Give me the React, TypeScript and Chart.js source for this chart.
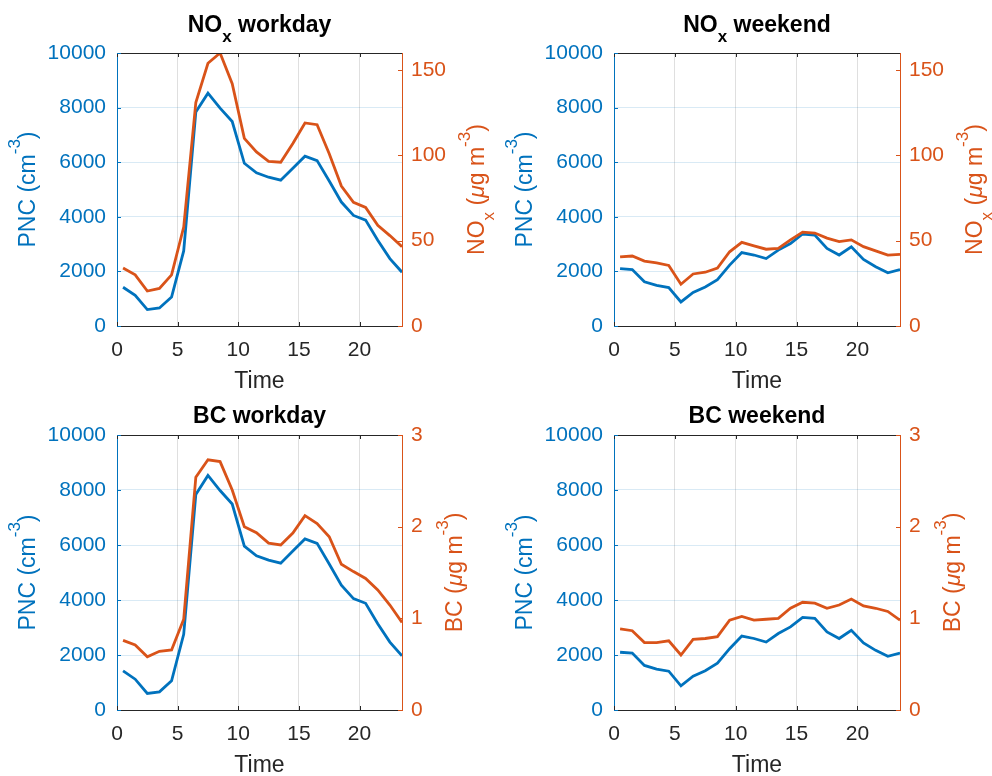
import React, { useEffect, useRef } from "react";
import { Chart, registerables } from "chart.js";

Chart.register(...registerables);

// ---------- data ----------
const hours = [0.5, 1.5, 2.5, 3.5, 4.5, 5.5, 6.5, 7.5, 8.5, 9.5, 10.5, 11.5, 12.5, 13.5, 14.5, 15.5, 16.5, 17.5, 18.5, 19.5, 20.5, 21.5, 22.5, 23.5];
const pncWorkday = [1420, 1120, 600, 660, 1060, 2750, 7840, 8530, 7980, 7490, 5960, 5610, 5450, 5340, 5780, 6220, 6060, 5310, 4540, 4050, 3880, 3140, 2470, 1970];
const pncWeekend = [2100, 2070, 1620, 1490, 1410, 880, 1230, 1430, 1700, 2230, 2690, 2600, 2470, 2780, 3020, 3370, 3330, 2840, 2600, 2900, 2440, 2170, 1950, 2070];
const noxWorkday = [34, 30, 20.5, 22, 30, 58, 131, 154, 160, 142, 110, 102, 96.5, 96, 107, 119, 118, 101, 82, 72.5, 69.5, 59, 53, 46.5];
const noxWeekend = [40.5, 41, 38, 37, 35.5, 24.5, 30.5, 31.5, 34, 43.5, 49, 47, 45, 45.5, 50.5, 55, 54.5, 51.5, 49.5, 50.5, 46.5, 44, 41.5, 42];
const bcWorkday = [0.76, 0.71, 0.58, 0.64, 0.655, 0.99, 2.54, 2.73, 2.71, 2.4, 2.0, 1.935, 1.82, 1.8, 1.93, 2.12, 2.035, 1.89, 1.59, 1.51, 1.435, 1.31, 1.145, 0.955];
const bcWeekend = [0.885, 0.865, 0.735, 0.735, 0.755, 0.6, 0.77, 0.78, 0.8, 0.98, 1.02, 0.98, 0.99, 1.0, 1.11, 1.175, 1.165, 1.11, 1.145, 1.21, 1.135, 1.11, 1.075, 0.98];

const timeTicks = [0, 5, 10, 15, 20];
const pncTicks = [0, 2000, 4000, 6000, 8000, 10000];
const noxTicks = [0, 50, 100, 150];
const bcTicks = [0, 1, 2, 3];
const timeRange = [0, 23.5];
const pncRange = [0, 10000];
const noxRange = [0, 160];
const bcRange = [0, 3];

type Piece = { t: string; k?: "sub" | "sup" | "it" };

const xLabel = "Time";
const pncLabel: Piece[] = [{ t: "PNC (cm" }, { t: "-3", k: "sup" }, { t: ")" }];
const noxLabel: Piece[] = [{ t: "NO" }, { t: "x", k: "sub" }, { t: " (" }, { t: "μ", k: "it" }, { t: "g m" }, { t: "-3", k: "sup" }, { t: ")" }];
const bcLabel: Piece[] = [{ t: "BC (" }, { t: "μ", k: "it" }, { t: "g m" }, { t: "-3", k: "sup" }, { t: ")" }];
const titleNoxWorkday: Piece[] = [{ t: "NO" }, { t: "x", k: "sub" }, { t: " workday" }];
const titleNoxWeekend: Piece[] = [{ t: "NO" }, { t: "x", k: "sub" }, { t: " weekend" }];
const titleBcWorkday: Piece[] = [{ t: "BC workday" }];
const titleBcWeekend: Piece[] = [{ t: "BC weekend" }];

// ---------- style ----------
const BLUE = "#0072BD";
const ORANGE = "#D95319";
const DARK = "#262626";
const FONT = '"Liberation Sans", Arial, Helvetica, sans-serif';
const TICK_SIZE = 21;
const LABEL_SIZE = 23;

type PanelCfg = {
  x: number; y: number; w: number; h: number;
  area: { l: number; r: number; t: number; b: number };
  title: Piece[]; titleY: number;
  pnc: number[]; right: number[]; rightRange: number[]; rightTicks: number[];
  rightLabel: Piece[]; leftLabelX: number; rightLabelX: number;
};

const panels: PanelCfg[] = [
  { x: 0, y: 0, w: 496, h: 400, area: { l: 117, r: 402, t: 53, b: 326 }, title: titleNoxWorkday, titleY: 32,
    pnc: pncWorkday, right: noxWorkday, rightRange: noxRange, rightTicks: noxTicks, rightLabel: noxLabel, leftLabelX: 34.5, rightLabelX: 484 },
  { x: 496, y: 0, w: 496, h: 400, area: { l: 118, r: 404, t: 53, b: 326 }, title: titleNoxWeekend, titleY: 32,
    pnc: pncWeekend, right: noxWeekend, rightRange: noxRange, rightTicks: noxTicks, rightLabel: noxLabel, leftLabelX: 35.5, rightLabelX: 486 },
  { x: 0, y: 388, w: 496, h: 388, area: { l: 117, r: 402, t: 47, b: 322 }, title: titleBcWorkday, titleY: 35,
    pnc: pncWorkday, right: bcWorkday, rightRange: bcRange, rightTicks: bcTicks, rightLabel: bcLabel, leftLabelX: 34.5, rightLabelX: 462 },
  { x: 496, y: 388, w: 496, h: 388, area: { l: 118, r: 404, t: 47, b: 322 }, title: titleBcWeekend, titleY: 35,
    pnc: pncWeekend, right: bcWeekend, rightRange: bcRange, rightTicks: bcTicks, rightLabel: bcLabel, leftLabelX: 35.5, rightLabelX: 464 },
];

function drawRich(ctx: CanvasRenderingContext2D, pieces: Piece[], size: number, bold: boolean, color: string, x: number, y: number, rotate: boolean) {
  ctx.save();
  ctx.translate(x, y);
  if (rotate) ctx.rotate(-Math.PI / 2);
  ctx.fillStyle = color;
  ctx.textBaseline = "alphabetic";
  ctx.textAlign = "left";
  const w = bold ? "bold " : "";
  const fontFor = (p: Piece) => {
    if (p.k === "sub" || p.k === "sup") return `${w}${Math.round(size * 0.72)}px ${FONT}`;
    if (p.k === "it") return `italic ${w}${size}px ${FONT}`;
    return `${w}${size}px ${FONT}`;
  };
  let total = 0;
  const widths = pieces.map((p) => {
    ctx.font = fontFor(p);
    const m = ctx.measureText(p.t).width;
    total += m;
    return m;
  });
  let cx = -total / 2;
  pieces.forEach((p, i) => {
    ctx.font = fontFor(p);
    const dy = p.k === "sub" ? size * 0.43 : p.k === "sup" ? -size * 0.63 : 0;
    ctx.fillText(p.t, cx, dy);
    cx += widths[i];
  });
  ctx.restore();
}

function makeDecor(cfg: PanelCfg) {
  return {
    id: "matlabDecor",
    afterDraw(chart: any) {
      const ctx: CanvasRenderingContext2D = chart.ctx;
      const a = chart.chartArea;
      const xs = chart.scales.x;
      const yl = chart.scales.y;
      const yr = chart.scales.y1;
      const tl = 4;
      ctx.save();
      ctx.lineWidth = 1;
      ctx.strokeStyle = DARK;
      ctx.beginPath();
      ctx.moveTo(a.left, Math.round(a.top) + 0.5);
      ctx.lineTo(a.right, Math.round(a.top) + 0.5);
      ctx.stroke();
      ctx.beginPath();
      for (const v of timeTicks) {
        const px = Math.round(xs.getPixelForValue(v)) + 0.5;
        ctx.moveTo(px, a.bottom);
        ctx.lineTo(px, a.bottom - tl);
        ctx.moveTo(px, a.top);
        ctx.lineTo(px, a.top + tl);
      }
      ctx.stroke();
      ctx.strokeStyle = BLUE;
      ctx.beginPath();
      for (const v of pncTicks) {
        const py = Math.round(yl.getPixelForValue(v)) + 0.5;
        ctx.moveTo(a.left, py);
        ctx.lineTo(a.left + tl, py);
      }
      ctx.stroke();
      ctx.strokeStyle = ORANGE;
      ctx.beginPath();
      for (const v of cfg.rightTicks) {
        const py = Math.round(yr.getPixelForValue(v)) + 0.5;
        ctx.moveTo(a.right, py);
        ctx.lineTo(a.right - tl, py);
      }
      ctx.stroke();
      ctx.restore();

      const cxm = (a.left + a.right) / 2;
      const cym = (a.top + a.bottom) / 2;
      drawRich(ctx, cfg.title, LABEL_SIZE, true, "#000000", cxm, cfg.titleY, false);
      drawRich(ctx, [{ t: xLabel }], LABEL_SIZE, false, DARK, cxm, a.bottom + 62, false);
      drawRich(ctx, pncLabel, LABEL_SIZE, false, BLUE, cfg.leftLabelX, cym, true);
      drawRich(ctx, cfg.rightLabel, LABEL_SIZE, false, ORANGE, cfg.rightLabelX, cym, true);
    },
  };
}

const plainTick = (v: any) => String(v);

function Panel({ cfg }: { cfg: PanelCfg }) {
  const ref = useRef<HTMLCanvasElement>(null);
  useEffect(() => {
    const canvas = ref.current!;
    const tickFont = { family: FONT, size: TICK_SIZE };
    const chart = new Chart(canvas, {
      type: "line",
      data: {
        datasets: [
          {
            data: hours.map((h, i) => ({ x: h, y: cfg.right[i] })),
            yAxisID: "y1",
            borderColor: ORANGE,
            backgroundColor: ORANGE,
            borderWidth: 2.8,
            pointRadius: 0,
            tension: 0,
            order: 0,
          },
          {
            data: hours.map((h, i) => ({ x: h, y: cfg.pnc[i] })),
            yAxisID: "y",
            borderColor: BLUE,
            backgroundColor: BLUE,
            borderWidth: 2.8,
            pointRadius: 0,
            tension: 0,
            order: 1,
          },
        ],
      },
      options: {
        responsive: false,
        animation: false,
        devicePixelRatio: 1,
        layout: { padding: { top: cfg.area.t, left: 0, right: 0, bottom: 0 } },
        plugins: { legend: { display: false }, tooltip: { enabled: false }, title: { display: false } },
        scales: {
          x: {
            type: "linear",
            position: "bottom",
            min: timeRange[0],
            max: timeRange[1],
            afterBuildTicks: (s: any) => { s.ticks = timeTicks.map((v) => ({ value: v })); },
            afterFit: (s: any) => { s.height = cfg.h - cfg.area.b; },
            grid: { color: "rgba(38,38,38,0.15)", drawTicks: false, lineWidth: 1 },
            border: { color: DARK, width: 1 },
            ticks: { color: DARK, font: tickFont, padding: 12, maxRotation: 0, autoSkip: false, callback: plainTick },
          },
          y: {
            type: "linear",
            position: "left",
            min: pncRange[0],
            max: pncRange[1],
            afterBuildTicks: (s: any) => { s.ticks = pncTicks.map((v) => ({ value: v })); },
            afterFit: (s: any) => { s.width = cfg.area.l; },
            grid: { color: "rgba(0,114,189,0.15)", drawTicks: false, lineWidth: 1 },
            border: { color: BLUE, width: 1 },
            ticks: { color: BLUE, font: tickFont, padding: 11, autoSkip: false, callback: plainTick },
          },
          y1: {
            type: "linear",
            position: "right",
            min: cfg.rightRange[0],
            max: cfg.rightRange[1],
            afterBuildTicks: (s: any) => { s.ticks = cfg.rightTicks.map((v) => ({ value: v })); },
            afterFit: (s: any) => { s.width = cfg.w - cfg.area.r; },
            grid: { display: false, drawTicks: false },
            border: { color: ORANGE, width: 1 },
            ticks: { color: ORANGE, font: tickFont, padding: 9, autoSkip: false, callback: plainTick },
          },
        },
      },
      plugins: [makeDecor(cfg)],
    } as any);
    return () => chart.destroy();
  }, [cfg]);
  return (
    <canvas
      ref={ref}
      width={cfg.w}
      height={cfg.h}
      style={{ position: "absolute", left: cfg.x, top: cfg.y, width: cfg.w, height: cfg.h }}
    />
  );
}

export default function App() {
  return (
    <div style={{ position: "fixed", left: 0, top: 0, width: 992, height: 776, background: "#ffffff", overflow: "hidden" }}>
      {panels.map((p, i) => (
        <Panel key={i} cfg={p} />
      ))}
    </div>
  );
}
